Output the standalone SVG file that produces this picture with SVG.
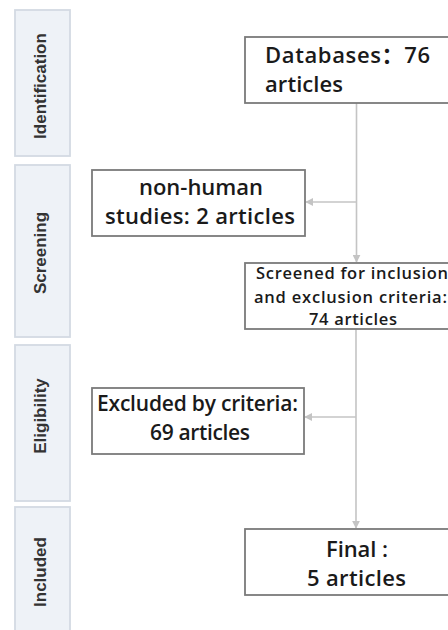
<svg xmlns="http://www.w3.org/2000/svg" width="448" height="630" viewBox="0 0 448 630">
<defs>
<style>
.lane{fill:#eef2f7;stroke:#d3dae3;stroke-width:1.8}
.lt{font-family:"Liberation Sans",Arial,sans-serif;font-weight:bold;font-size:17px;fill:#333;text-anchor:middle}
.box{fill:#fff;stroke:#7a7a7a;stroke-width:1.8}
.t{font-family:"Open Sans","Noto Sans","Noto Sans CJK SC",sans-serif;font-weight:600;fill:#1a1a1a}
.big{font-size:22px}
.mid{font-size:21px}
.sm{font-size:16.5px}
.c{text-anchor:middle}
.con{fill:none;stroke:#c4c4c4;stroke-width:1.6}
</style>
<marker id="ah" viewBox="0 0 10 10" refX="9" refY="5" markerWidth="5" markerHeight="5" orient="auto" markerUnits="strokeWidth">
<path d="M0,0 L10,5 L0,10 z" fill="#c4c4c4"/>
</marker>
</defs>
<rect width="448" height="630" fill="#fff"/>
<g id="lane-identification">
<rect class="lane" x="15" y="10" width="55" height="146"/>
<text class="lt" transform="translate(46,86) rotate(-90)">Identification</text>
</g>
<g id="lane-screening">
<rect class="lane" x="15" y="165" width="55" height="172"/>
<text class="lt" transform="translate(46,253) rotate(-90)">Screening</text>
</g>
<g id="lane-eligibility">
<rect class="lane" x="15" y="345" width="55" height="156"/>
<text class="lt" transform="translate(46,416) rotate(-90)">Eligibility</text>
</g>
<g id="lane-included">
<rect class="lane" x="15" y="507" width="55" height="140"/>
<text class="lt" transform="translate(46,572) rotate(-90)">Included</text>
</g>
<g id="connectors">
<path class="con" d="M356.5 103 V262" marker-end="url(#ah)"/>
<path class="con" d="M356.5 202 H306" marker-end="url(#ah)"/>
<path class="con" d="M356 329 V528" marker-end="url(#ah)"/>
<path class="con" d="M356 417 H305" marker-end="url(#ah)"/>
</g>
<g id="databases">
<rect class="box" x="245" y="37" width="230" height="66"/>
<text class="t big" x="265" y="63" textLength="165" lengthAdjust="spacing">Databases：76</text>
<text class="t big" x="265" y="92" textLength="78" lengthAdjust="spacing">articles</text>
</g>
<g id="nonhuman">
<rect class="box" x="92" y="170" width="213" height="66"/>
<text class="t big c" x="201" y="195">non-human</text>
<text class="t big c" x="200" y="224" textLength="190" lengthAdjust="spacing">studies: 2 articles</text>
</g>
<g id="screened">
<rect class="box" x="245" y="263" width="230" height="66"/>
<text class="t sm" x="256" y="279" textLength="192" lengthAdjust="spacing">Screened for inclusion</text>
<text class="t sm" x="254" y="303" textLength="193" lengthAdjust="spacing">and exclusion criteria:</text>
<text class="t sm" x="309" y="325" textLength="88" lengthAdjust="spacing">74 articles</text>
</g>
<g id="excluded">
<rect class="box" x="92" y="388" width="212" height="66"/>
<text class="t mid" x="97" y="411" textLength="201" lengthAdjust="spacing">Excluded by criteria:</text>
<text class="t mid" x="150" y="440" textLength="100" lengthAdjust="spacing">69 articles</text>
</g>
<g id="final">
<rect class="box" x="245" y="529" width="230" height="66"/>
<text class="t big" x="326" y="557" textLength="62" lengthAdjust="spacing">Final :</text>
<text class="t big" x="307" y="586" textLength="99" lengthAdjust="spacing">5 articles</text>
</g>
</svg>
